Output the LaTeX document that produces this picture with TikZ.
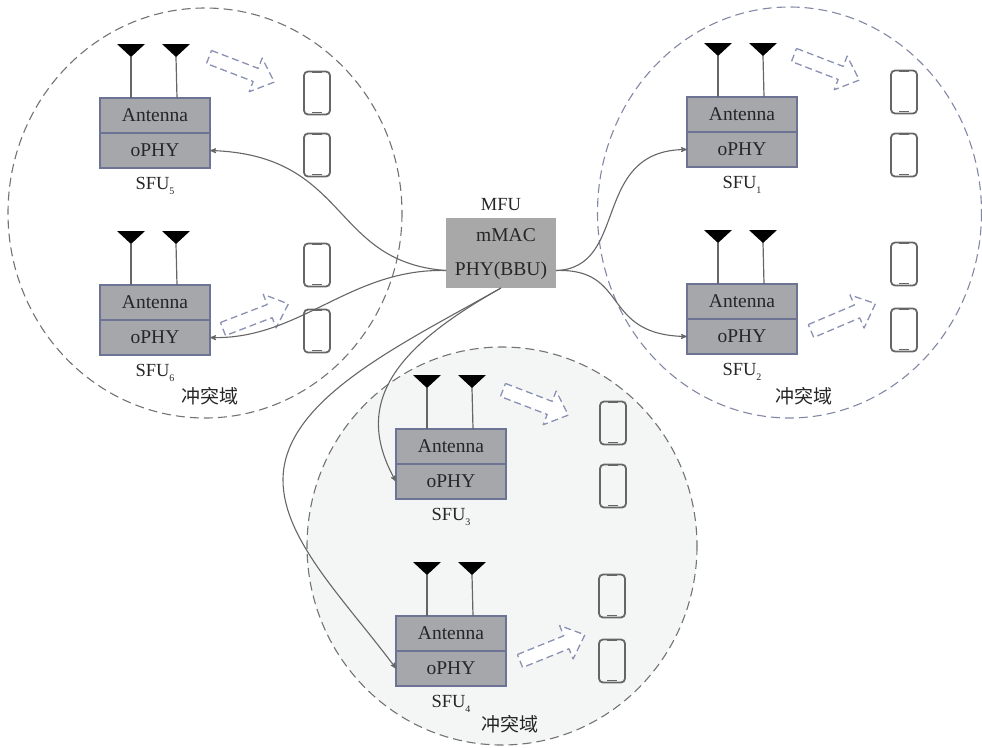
\documentclass[tikz,border=0pt]{standalone}
\usepackage{fontspec}
\setmainfont{Liberation Serif}
\newfontfamily\cjk{Noto Sans CJK SC}
\usetikzlibrary{arrows,positioning,calc}

\definecolor{boxfill}{HTML}{A6A7AB}
\definecolor{boxline}{HTML}{6C7394}
\definecolor{mfufill}{HTML}{A8A8A8}
\definecolor{hintline}{HTML}{8A91B3}
\definecolor{phoneline}{HTML}{666666}
\definecolor{zonefill}{HTML}{F4F6F5}

\tikzset{
  unitbox/.style={draw=boxline,fill=boxfill,line width=1.4pt,minimum width=110pt,outer sep=0pt,
                  minimum height=35pt,inner sep=0pt,font=\fontsize{19.5}{20}\selectfont,text=black!85},
  mfubox/.style={fill=mfufill,minimum width=110pt,minimum height=35pt,inner sep=0pt,outer sep=0pt,
                 font=\fontsize{19.5}{20}\selectfont,text=black!85},
  sfulabel/.style={font=\fontsize{18.5}{20}\selectfont,text=black!85,inner sep=0pt},
  zonelabel/.style={font=\cjk\fontsize{19}{20}\selectfont,text=black!85,inner sep=0pt},
  zone/.style={dashed,dash pattern=on 9pt off 5pt,line width=1.1pt},
  phone/.style={draw=phoneline,line width=1.8pt,rounded corners=4pt,minimum width=26pt,
                minimum height=43pt,inner sep=0pt},
  stem/.style={draw=black!60,line width=1.2pt},
  link/.style={draw=black!60,line width=1.1pt,-stealth'},
  hint/.style={draw=hintline,line width=1.3pt,dashed,dash pattern=on 7pt off 4pt,fill=white,
               line join=round}
}

% one SFU: antenna block, oPHY block, masts, label
\newcommand{\sfuunit}[4]{
  \node[unitbox] (ant#1) at (#2,#3) {Antenna};
  \node[unitbox] (phy#1) [below=0pt of ant#1] {oPHY};
  \node[sfulabel] (lab#1) [below=9pt of phy#1] {SFU\raisebox{-5pt}{\fontsize{10}{10}\selectfont #4}};
  \coordinate (tipa#1) at ($(ant#1.north)+(-24,-41)$);
  \coordinate (tipb#1) at ($(ant#1.north)+(21,-41)$);
  \draw[stem] (tipa#1) -- ($(ant#1.north)+(-24,0)$);
  \draw[stem] (tipb#1) -- ($(ant#1.north)+(22,0)$);
  \fill[black] (tipa#1) -- ++(-14,-13) -- ++(28,0) -- cycle;
  \fill[black] (tipb#1) -- ++(-14,-13) -- ++(28,0) -- cycle;
}
\newcommand{\phoneicon}[3]{
  \node[phone] (#1) at (#2,#3) {};
  \draw[phoneline,line width=2pt] ($(#1.north)+(-5,1.5)$) -- ($(#1.north)+(5,1.5)$);
  \draw[phoneline,line width=1.6pt] ($(#1.south)+(-5,-3)$) -- ($(#1.south)+(5,-3)$);
}
\newcommand{\hintarrow}[3]{
  \draw[hint,shift={(#1,#2)},rotate=#3] (0,-7) -- (50,-7) -- (50,-18) -- (70,0)
    -- (50,18) -- (50,7) -- (0,7) -- cycle;
}

\begin{document}
\begin{tikzpicture}[x=1pt,y=-1pt]
  \useasboundingbox (0,0) rectangle (982,747);

  % collision zones
  \draw[zone,draw=black!55] (205,213) ellipse [x radius=197,y radius=205];
  \draw[zone,draw=boxline!85] (789.5,212.5) ellipse [x radius=192,y radius=205.5];
  \draw[zone,draw=black!55,fill=zonefill] (502,546) ellipse [x radius=195,y radius=199];

  \sfuunit{1}{742}{114.5}{1}
  \sfuunit{2}{742}{301.5}{2}
  \sfuunit{3}{451}{446.5}{3}
  \sfuunit{4}{451}{633.5}{4}
  \sfuunit{5}{155}{115.5}{5}
  \sfuunit{6}{155}{302.5}{6}

  \node[mfubox] (mac) at (501,235.5) {\hspace*{10pt}mMAC};
  \node[mfubox] (bbu) [below=0pt of mac] {PHY(BBU)};
  \node[sfulabel] (mfu) [above=7pt of mac] {MFU};

  \phoneicon{p1}{904}{92}   \phoneicon{p2}{904}{155}
  \phoneicon{p3}{904}{264}  \phoneicon{p4}{904}{330}
  \phoneicon{p5}{613}{423}  \phoneicon{p6}{613}{486}
  \phoneicon{p7}{612}{596}  \phoneicon{p8}{612}{661}
  \phoneicon{p9}{317}{93}   \phoneicon{p10}{317}{155}
  \phoneicon{p11}{317}{265} \phoneicon{p12}{317}{331}

  \hintarrow{209}{57}{-21}
  \hintarrow{223}{329}{21}
  \hintarrow{794}{55}{-21}
  \hintarrow{811}{331}{23}
  \hintarrow{503}{390}{-21}
  \hintarrow{520}{661}{22}

  \coordinate (bend) at (283,480);
  \path[link] (bbu.west) .. controls (330,262) and (350,155) .. (phy5.east);
  \path[link] (bbu.west) .. controls (350,268) and (300,340) .. (phy6.east);
  \path[link] (bbu.east) .. controls (630,268) and (590,150) .. (phy1.west);
  \path[link] (bbu.east) .. controls (630,268) and (600,335) .. (phy2.west);
  \path[link] (bbu.south) .. controls (400,345) and (350,400) .. (phy3.west);
  \path[link] (bbu.south) .. controls (400,345) and (283,400) .. (bend)
                          .. controls (283,540) and (345,600) .. (phy4.west);

  \node[zonelabel] (zonea) at (210,396) {冲突域};
  \node[zonelabel] (zoneb) at (804,396) {冲突域};
  \node[zonelabel] (zonec) at (510,724) {冲突域};
\end{tikzpicture}
\end{document}
